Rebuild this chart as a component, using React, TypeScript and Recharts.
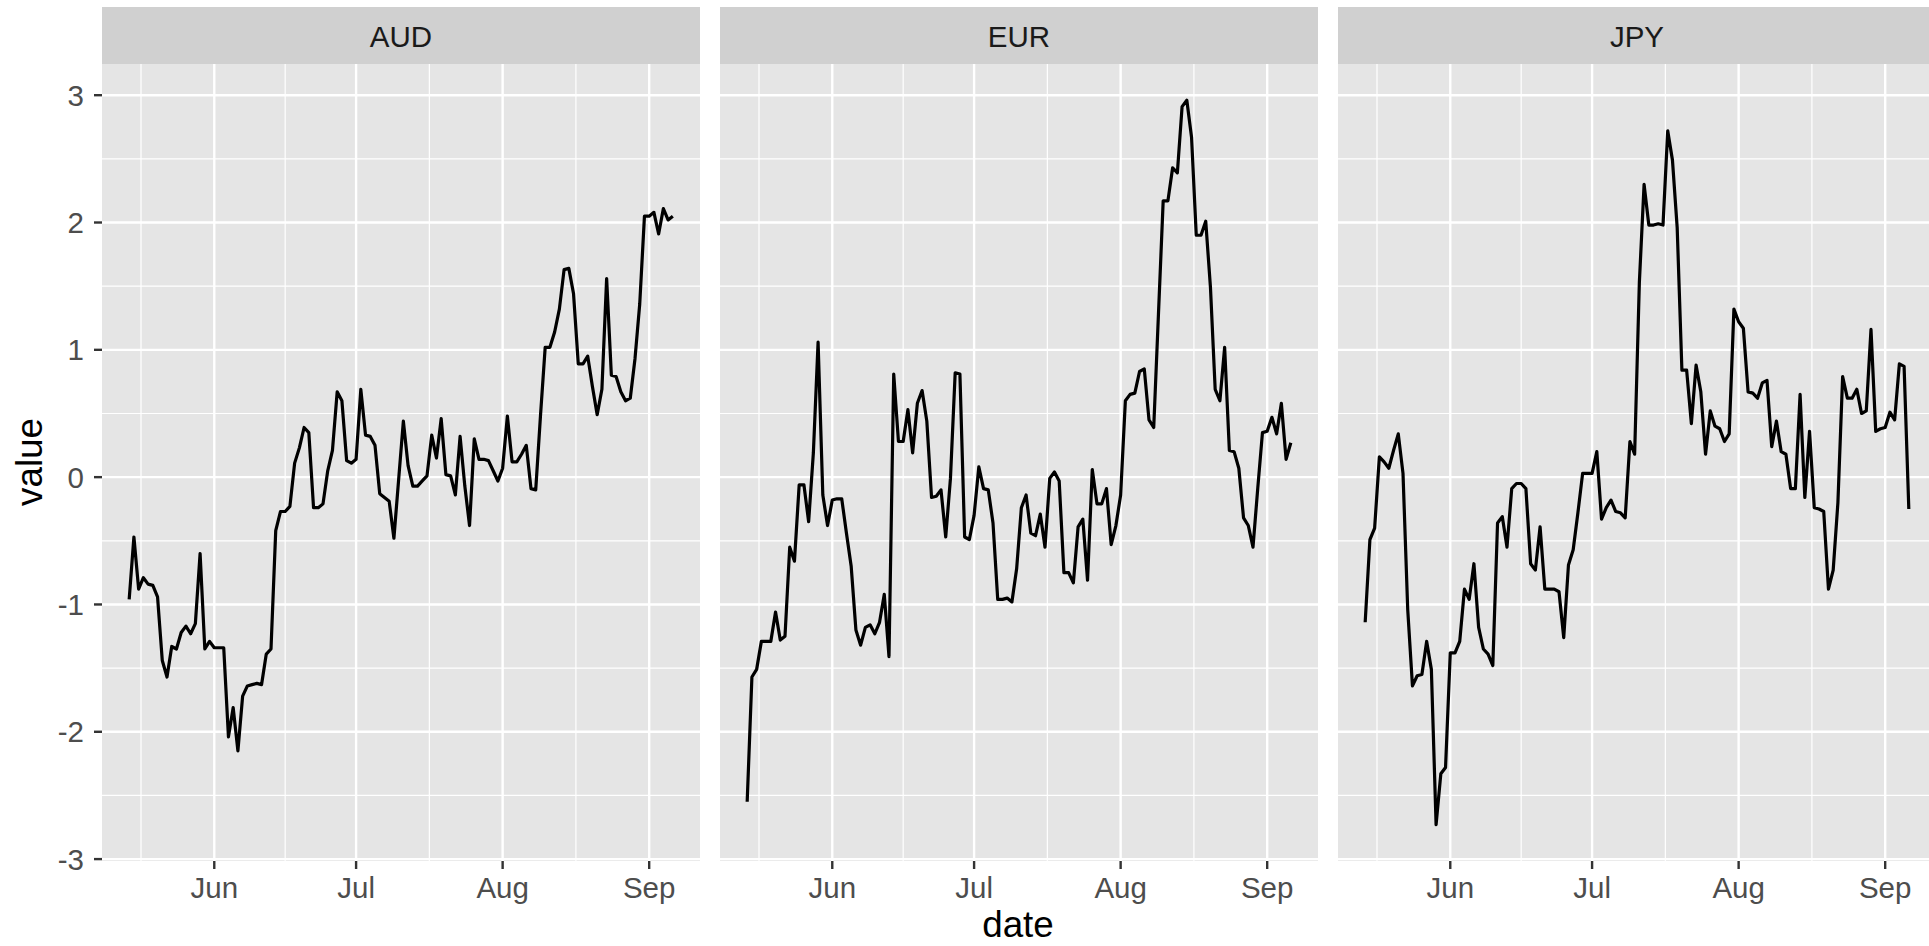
import { CartesianGrid, Line, LineChart, XAxis, YAxis } from "recharts";

// Three faceted panels (one per currency) of a daily standardised value,
// drawn in the grey-panel / white-grid look. x is days since 1 June.

const CURRENCIES = ["AUD", "EUR", "JPY"];

// first observation is 14 May (day -18), one value per day through 6 Sep
const FIRST_DAY = -18;

const AUD = [
  -0.96, -0.47, -0.88, -0.79, -0.84, -0.85, -0.94, -1.44, -1.57, -1.33,
  -1.35, -1.22, -1.17, -1.23, -1.15, -0.6, -1.35, -1.29, -1.34, -1.34,
  -1.34, -2.04, -1.81, -2.15, -1.72, -1.64, -1.63, -1.62, -1.63, -1.39,
  -1.35, -0.42, -0.27, -0.27, -0.23, 0.11, 0.23, 0.39, 0.35, -0.24,
  -0.24, -0.21, 0.05, 0.21, 0.67, 0.6, 0.13, 0.11, 0.14, 0.69,
  0.33, 0.32, 0.25, -0.13, -0.16, -0.19, -0.48, -0.02, 0.44, 0.09,
  -0.07, -0.07, -0.03, 0.01, 0.33, 0.15, 0.46, 0.02, 0.01, -0.14,
  0.32, -0.07, -0.38, 0.3, 0.14, 0.14, 0.13, 0.05, -0.03, 0.07,
  0.48, 0.12, 0.12, 0.18, 0.25, -0.09, -0.1, 0.48, 1.02, 1.02,
  1.14, 1.32, 1.63, 1.64, 1.44, 0.89, 0.89, 0.95, 0.71, 0.49,
  0.69, 1.56, 0.8, 0.79, 0.67, 0.6, 0.62, 0.93, 1.36, 2.05,
  2.05, 2.08, 1.91, 2.11, 2.02, 2.05,
];

const EUR = [
  -2.55, -1.57, -1.51, -1.29, -1.29, -1.29, -1.06, -1.28, -1.25, -0.55,
  -0.66, -0.06, -0.06, -0.35, 0.19, 1.06, -0.14, -0.38, -0.18, -0.17,
  -0.17, -0.44, -0.7, -1.2, -1.32, -1.18, -1.16, -1.23, -1.14, -0.92,
  -1.41, 0.81, 0.28, 0.28, 0.53, 0.19, 0.58, 0.68, 0.44, -0.16,
  -0.15, -0.1, -0.47, -0.01, 0.82, 0.81, -0.47, -0.49, -0.3, 0.08,
  -0.09, -0.1, -0.36, -0.96, -0.96, -0.95, -0.98, -0.72, -0.24, -0.14,
  -0.44, -0.46, -0.29, -0.55, -0.01, 0.04, -0.03, -0.75, -0.75, -0.83,
  -0.39, -0.33, -0.81, 0.06, -0.21, -0.21, -0.09, -0.53, -0.38, -0.14,
  0.6, 0.65, 0.66, 0.83, 0.85, 0.45, 0.39, 1.28, 2.17, 2.17,
  2.43, 2.39, 2.91, 2.96, 2.67, 1.9, 1.9, 2.01, 1.49, 0.69,
  0.6, 1.02, 0.21, 0.2, 0.07, -0.32, -0.38, -0.55, -0.09, 0.35,
  0.36, 0.47, 0.34, 0.58, 0.14, 0.27,
];

const JPY = [
  -1.14, -0.49, -0.4, 0.16, 0.12, 0.07, 0.21, 0.34, 0.03, -1.04,
  -1.64, -1.56, -1.55, -1.29, -1.51, -2.73, -2.33, -2.28, -1.38, -1.38,
  -1.29, -0.88, -0.96, -0.68, -1.18, -1.35, -1.39, -1.48, -0.36, -0.31,
  -0.55, -0.09, -0.05, -0.05, -0.09, -0.68, -0.73, -0.39, -0.88, -0.88,
  -0.88, -0.9, -1.26, -0.69, -0.57, -0.28, 0.03, 0.03, 0.03, 0.2,
  -0.33, -0.24, -0.18, -0.27, -0.28, -0.32, 0.28, 0.18, 1.53, 2.3,
  1.98, 1.98, 1.99, 1.98, 2.72, 2.49, 1.96, 0.84, 0.84, 0.42,
  0.88, 0.67, 0.18, 0.52, 0.4, 0.38, 0.28, 0.34, 1.32, 1.22,
  1.17, 0.67, 0.66, 0.62, 0.74, 0.76, 0.24, 0.44, 0.2, 0.18,
  -0.09, -0.09, 0.65, -0.16, 0.36, -0.24, -0.25, -0.27, -0.88, -0.73,
  -0.2, 0.79, 0.62, 0.62, 0.69, 0.5, 0.52, 1.16, 0.36, 0.38,
  0.39, 0.51, 0.45, 0.89, 0.87, -0.25,
];

// month starts (days since 1 Jun) and the mid-month minor breaks
const MONTH_TICKS = [0, 30, 61, 92];
const MONTH_LABELS = ["Jun", "Jul", "Aug", "Sep"];
const MONTH_MINOR = [-15.5, 15, 45.5, 76.5];

const VALUE_TICKS = [-3, -2, -1, 0, 1, 2, 3];
const VALUE_MINOR = [-2.5, -1.5, -0.5, 0.5, 1.5, 2.5];

const X_DOMAIN: [number, number] = [-23.75, 102.75];
const Y_DOMAIN: [number, number] = [-3.015, 3.245];

const SERIES = [AUD, EUR, JPY];

const FONT = '"Liberation Sans", Arial, Helvetica, sans-serif';
const PANEL_LEFTS = [102, 720, 1338];
const PANEL_W = 598;
const PANEL_H = 797;
const PANEL_TOP = 64;
const AXIS_W = 102;
const X_AXIS_H = 60;

const tickText = { fontSize: 29.5, fill: "#4D4D4D", fontFamily: FONT };
const tickLine = { stroke: "#333333", strokeWidth: 2.4 };

function Panel({ index }: { index: number }) {
  const values = SERIES[index];
  const rows = values.map((v, i) => ({ day: FIRST_DAY + i, value: v }));
  const first = index === 0;
  const width = PANEL_W + (first ? AXIS_W : 0);

  return (
    <div
      style={{
        position: "absolute",
        left: first ? PANEL_LEFTS[0] - AXIS_W : PANEL_LEFTS[index],
        top: PANEL_TOP,
      }}
    >
      <LineChart
        width={width}
        height={PANEL_H + X_AXIS_H}
        data={rows}
        margin={{ top: 0, right: 0, bottom: 0, left: 0 }}
      >
        <CartesianGrid
          fill="#E5E5E5"
          stroke="#FFFFFF"
          strokeWidth={1.2}
          horizontalValues={VALUE_MINOR}
          verticalValues={MONTH_MINOR}
        />
        <CartesianGrid
          fill="none"
          stroke="#FFFFFF"
          strokeWidth={2.4}
          horizontalValues={VALUE_TICKS}
          verticalValues={MONTH_TICKS}
        />
        <XAxis
          dataKey="day"
          type="number"
          scale="linear"
          domain={X_DOMAIN}
          allowDataOverflow
          ticks={MONTH_TICKS}
          interval={0}
          tickFormatter={(d: number) => MONTH_LABELS[MONTH_TICKS.indexOf(d)]}
          height={X_AXIS_H}
          axisLine={false}
          tickLine={tickLine}
          tickSize={8}
          tickMargin={8}
          tick={tickText}
        />
        <YAxis
          type="number"
          domain={Y_DOMAIN}
          allowDataOverflow
          ticks={VALUE_TICKS}
          interval={0}
          hide={!first}
          width={AXIS_W}
          axisLine={false}
          tickLine={tickLine}
          tickSize={8}
          tickMargin={10}
          tick={tickText}
        />
        <Line
          type="linear"
          dataKey="value"
          stroke="#000000"
          strokeWidth={3.2}
          strokeLinejoin="round"
          dot={false}
          activeDot={false}
          isAnimationActive={false}
        />
      </LineChart>
    </div>
  );
}

export default function App() {
  return (
    <div
      style={{
        position: "absolute",
        left: 0,
        top: 0,
        width: 1929,
        height: 946,
        overflow: "hidden",
        background: "#FFFFFF",
        fontFamily: FONT,
      }}
    >
      <svg
        width={1929}
        height={946}
        style={{ position: "absolute", left: 0, top: 0 }}
        fontFamily={FONT}
      >
        {CURRENCIES.map((c, i) => (
          <g key={c}>
            <rect x={PANEL_LEFTS[i]} y={7} width={PANEL_W} height={PANEL_TOP - 7} fill="#D0D0D0" />
            <text
              x={PANEL_LEFTS[i] + PANEL_W / 2}
              y={47}
              textAnchor="middle"
              fontSize={29.5}
              fill="#1A1A1A"
            >
              {c}
            </text>
          </g>
        ))}
        <text
          transform="translate(42,462) rotate(-90)"
          textAnchor="middle"
          fontSize={36.8}
          fill="#000000"
        >
          value
        </text>
        <text x={1018} y={937} textAnchor="middle" fontSize={36.8} fill="#000000">
          date
        </text>
      </svg>
      {CURRENCIES.map((c, i) => (
        <Panel key={c} index={i} />
      ))}
    </div>
  );
}
